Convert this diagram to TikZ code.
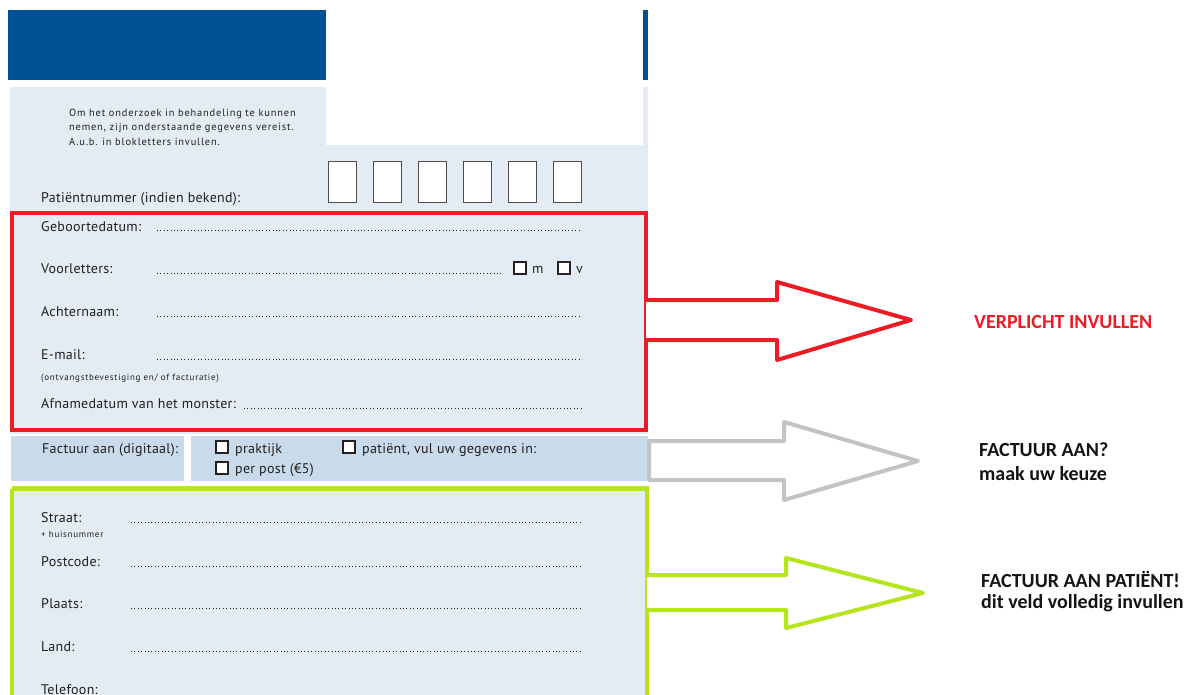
\documentclass[tikz,border=0pt]{standalone}
\usepackage{fontspec}
\newfontfamily\formfont[LetterSpace=2]{PT Sans}
\newfontfamily\smallfont[LetterSpace=8]{PT Sans}
\newfontfamily\labelfont{Carlito}
\definecolor{hdrblue}{RGB}{0,81,150}
\definecolor{panel}{RGB}{227,235,244}
\definecolor{cell}{RGB}{201,218,234}
\definecolor{formtxt}{RGB}{35,31,32}
\definecolor{redbox}{RGB}{237,28,36}
\definecolor{greenbox}{RGB}{181,230,29}
\definecolor{grayarrow}{RGB}{195,195,195}
\definecolor{lbltxt}{RGB}{20,20,20}
\tikzset{
  ftext/.style={anchor=base west, inner sep=0pt, text=formtxt, font=\formfont\fontsize{14}{16}\selectfont},
  fsmall/.style={anchor=base west, inner sep=0pt, text=formtxt, font=\smallfont\fontsize{9}{10}\selectfont},
  fintro/.style={anchor=base west, inner sep=0pt, text=formtxt, font=\smallfont\fontsize{10.4}{12}\selectfont},
  dotline/.style={draw=formtxt, line width=0.7pt, dash pattern=on 0.8pt off 2.6pt},
  cbox/.style={draw=formtxt, line width=1.2pt, fill=white},
  numbox/.style={draw=formtxt!80, line width=1pt, fill=white},
  lbl/.style={anchor=west, inner sep=0pt, font=\labelfont\bfseries\fontsize{20}{24}\selectfont, text=lbltxt},
  bigarrow/.style={line width=4pt, line join=round, fill=white},
}
\begin{document}
\begin{tikzpicture}[x=1pt,y=-1pt]
\useasboundingbox (0,0) rectangle (1190,695);
\fill[white] (0,0) rectangle (1190,695);
% header
\fill[hdrblue] (8,10) rectangle (326,80);
\fill[hdrblue] (643,10) rectangle (648,80);
% panel
\fill[panel] (10,87) rectangle (648,434);
\fill[white] (326,87) rectangle (643,145);
\node[fintro] (intro1) at (69,116.5) {Om het onderzoek in behandeling te kunnen};
\node[fintro] (intro2) at (69,131) {nemen, zijn onderstaande gegevens vereist.};
\node[fintro] (intro3) at (69,145.5) {A.u.b. in blokletters invullen.};
\node[ftext] (pnr) at (41,202) {Patiëntnummer (indien bekend):};
\foreach \i/\x in {1/328,2/373,3/418,4/463,5/508,6/553}{
  \draw[numbox] (\x,162) rectangle +(28,40);
}
% red box
\draw[redbox, line width=4.5pt] (12,213) rectangle (646,430);
\node[ftext] (geb) at (41,231) {Geboortedatum:};
\draw[dotline] (157,230) -- (582,230);
\node[ftext] (voor) at (41,273) {Voorletters:};
\draw[dotline] (157,273) -- (502,273);
\draw[cbox] (514,262) rectangle (526,274);
\node[ftext] (m) at (532,273) {m};
\draw[cbox] (558,262) rectangle (570,274);
\node[ftext] (v) at (576,273) {v};
\node[ftext] (ach) at (41,316) {Achternaam:};
\draw[dotline] (157,316) -- (582,316);
\node[ftext] (mail) at (41,359) {E-mail:};
\draw[dotline] (157,359) -- (582,359);
\node[fsmall] (ontv) at (41,380) {(ontvangstbevestiging en/ of facturatie)};
\node[ftext] (afn) at (41,408) {Afnamedatum van het monster:};
\draw[dotline] (244,408) -- (582,408);
% factuur row
\fill[cell] (11,436) rectangle (184,481);
\fill[cell] (191,436) rectangle (648,481);
\node[ftext] (fact) at (42,453) {Factuur aan (digitaal):};
\draw[cbox] (216,441) rectangle (228,453);
\node[ftext] (prak) at (235,453) {praktijk};
\draw[cbox] (343,441) rectangle (355,453);
\node[ftext] (pat) at (362,453) {patiënt, vul uw gegevens in:};
\draw[cbox] (216,462) rectangle (228,474);
\node[ftext] (post) at (235,473) {per post (€5)};
% green box
\fill[panel] (12,488) rectangle (647,700);
\draw[greenbox, line width=4.5pt] (12,488.5) -- (12,700) (647,700) -- (647,488.5) -- (12,488.5);
\node[ftext] (str) at (41,522) {Straat:};
\node[fsmall] (huis) at (41,537) {+ huisnummer};
\draw[dotline] (131,522) -- (582,522);
\node[ftext] (pc) at (41,566) {Postcode:};
\draw[dotline] (131,566) -- (582,566);
\node[ftext] (pl) at (41,608) {Plaats:};
\draw[dotline] (131,608) -- (582,608);
\node[ftext] (land) at (41,651) {Land:};
\draw[dotline] (131,651) -- (582,651);
\node[ftext] (tel) at (41,694) {Telefoon:};
% arrows
\draw[bigarrow, draw=redbox] (646,300) -- (777,300) -- (777,282) -- (911,320) -- (777,360) -- (777,340) -- (646,340);
\draw[bigarrow, draw=grayarrow] (649,441) -- (784,441) -- (784,422) -- (918,461) -- (784,500) -- (784,480) -- (649,480) -- cycle;
\draw[bigarrow, draw=greenbox] (647,575) -- (786,575) -- (786,558) -- (923,593) -- (786,628) -- (786,610) -- (647,610);
% labels
\node[lbl, text=redbox] (l1) at (974,322) {VERPLICHT INVULLEN};
\node[lbl] (l2a) at (979,450) {FACTUUR AAN?};
\node[lbl] (l2b) at (979,474) {maak uw keuze};
\node[lbl] (l3a) at (981,579) {FACTUUR AAN PATIËNT!};
\node[lbl] (l3b) at (981,603) {dit veld volledig invullen};
\end{tikzpicture}
\end{document}
